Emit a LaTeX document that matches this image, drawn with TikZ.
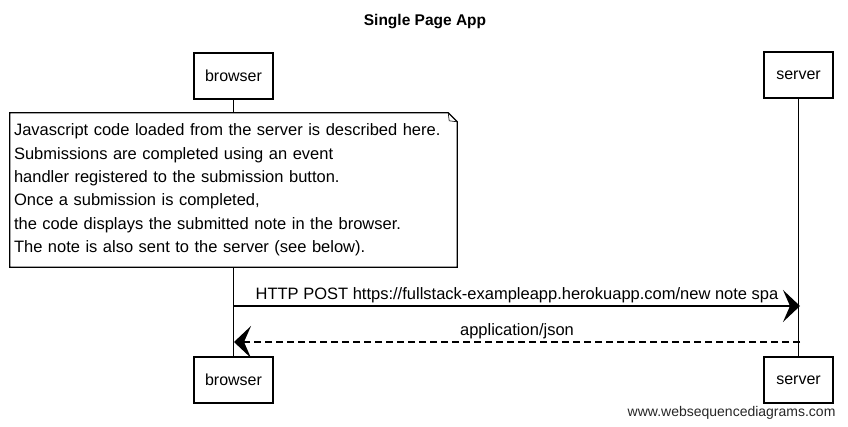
\documentclass[tikz,border=0pt]{standalone}
\usepackage{fontspec}
\setmainfont{Liberation Sans}
\usetikzlibrary{arrows.meta}
\begin{document}
\begin{tikzpicture}[x=1pt,y=-1pt,
  actor/.style={draw, line width=1.2pt, minimum width=79pt, minimum height=46pt, inner sep=0pt, font=\fontsize{16}{19}\selectfont},
  lifeline/.style={line width=0.8pt},
  msg/.style={line width=1.3pt, -{Stealth[length=17pt,width=32pt,inset=7pt]}},
  lbl/.style={font=\fontsize{16.5}{20}\selectfont, inner sep=2pt},
  notebox/.style={line width=1.2pt}]
\useasboundingbox (0,0) rectangle (848,427);
\node[font=\bfseries\fontsize{15.5}{18}\selectfont] (title) at (425,22) {Single Page App};
\node[actor] (b1) at (233.5,76) {browser};
\node[actor, minimum width=69pt] (s1) at (798.5,75) {server};
\node[actor] (b2) at (233.5,380) {browser};
\node[actor, minimum width=69pt] (s2) at (798.5,380) {server};
\node[minimum width=447pt, minimum height=154pt, inner sep=4pt, text width=439pt, align=left,
      font=\fontsize{16.5}{23.4}\selectfont] (note) at (233.5,190)
  {Javascript code loaded from the server is described here.\\
   Submissions are completed using an event\\
   handler registered to the submission button.\\
   Once a submission is completed,\\
   the code displays the submitted note in the browser.\\
   The note is also sent to the server (see below).};
\draw[notebox] (note.north west) -- ([xshift=-9pt]note.north east) -- ([yshift=-9pt]note.north east)
  -- (note.south east) -- (note.south west) -- cycle;
\draw[line width=0.6pt] ([xshift=-9pt]note.north east) -- ([xshift=-8pt,yshift=-8pt]note.north east) -- ([yshift=-9pt]note.north east);
\draw[lifeline] (b1.south) -- (b1.south |- note.north);
\draw[lifeline] (b1.south |- note.south) -- (b2.north);
\draw[lifeline] (s1.south) -- (s2.north);
\coordinate (m1b) at (234,306);
\coordinate (m1s) at (800,306);
\coordinate (m2s) at (800,342);
\coordinate (m2b) at (234,342);
\draw[msg] (m1b) -- node[lbl, above] (l1) {HTTP POST https://fullstack-exampleapp.herokuapp.com/new note spa} (m1s);
\draw[msg, dash pattern=on 7pt off 4pt] (m2s) -- node[lbl, above] (l2) {application/json} (m2b);
\node[anchor=base east, font=\fontsize{14}{16}\selectfont, text=black!85] (web) at (839,416) {www.websequencediagrams.com};
\end{tikzpicture}
\end{document}
